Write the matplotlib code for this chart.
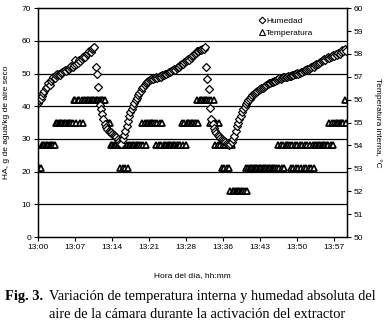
import numpy as np
import matplotlib.pyplot as plt
from matplotlib.lines import Line2D

# sample grid: one reading every 15 s, 13:00 -> 14:00 (minutes after 13:00)
minutes = np.arange(241) * 0.25

humedad = [
    41.0, 41.8, 42.3, 43.2, 44.0, 44.6, 45.5, 46.0, 47.0, 46.6, 47.8, 48.2, 49.0, 48.6, 49.5, 49.8, 50.0, 49.7, 50.3, 50.6,
    50.8, 51.2, 50.9, 51.5, 51.5, 51.9, 52.3, 52.0, 52.6, 54.0, 53.0, 53.3, 54.0, 53.8, 54.4, 55.0, 55.4, 55.2, 56.0, 56.4,
    57.0, 56.6, 57.4, 57.8, 58.2, 52.0, 50.0, 46.0, 40.5, 39.0, 37.5, 36.0, 34.5, 33.5, 33.0, 32.5, 32.2, 32.0, 31.6, 31.3,
    30.8, 30.5, 30.0, 29.5, 28.8, 28.5, 30.0, 31.2, 32.5, 34.0, 35.5, 37.0, 38.2, 39.2, 40.0, 41.0, 41.8, 42.6, 43.3, 44.0,
    44.8, 45.5, 46.0, 46.6, 47.0, 47.4, 47.8, 48.0, 48.2, 48.5, 48.4, 48.7, 48.9, 48.6, 49.0, 49.2, 48.9, 49.4, 49.6, 49.8,
    50.0, 50.3, 50.5, 50.4, 50.8, 51.0, 51.3, 51.1, 51.6, 52.0, 52.0, 52.5, 52.8, 53.0, 53.4, 53.8, 54.0, 54.4, 54.2, 54.8,
    55.3, 55.6, 56.0, 56.4, 56.8, 57.0, 57.3, 57.2, 57.6, 57.4, 58.0, 52.0, 48.3, 45.3, 39.5, 36.0, 34.5, 33.2, 32.5, 31.8,
    31.2, 30.8, 30.3, 30.0, 29.6, 29.3, 29.1, 28.8, 28.5, 28.2, 28.3, 29.0, 30.0, 31.0, 32.5, 34.0, 35.0, 36.0, 37.0, 38.2,
    39.3, 39.8, 40.6, 41.2, 41.8, 42.3, 42.8, 43.3, 43.8, 44.0, 44.5, 44.8, 45.0, 45.4, 45.6, 45.5, 46.0, 46.3, 46.4, 46.8,
    47.0, 47.1, 47.4, 47.3, 47.7, 47.8, 48.0, 48.2, 48.5, 48.3, 48.6, 48.8, 48.8, 49.0, 49.0, 49.2, 49.3, 49.2, 49.5, 49.6,
    49.8, 50.0, 50.1, 50.0, 50.3, 50.5, 50.6, 50.8, 51.0, 51.0, 51.3, 51.5, 51.7, 51.9, 52.2, 52.0, 52.6, 52.9, 53.0, 53.2,
    53.5, 53.8, 54.0, 54.4, 54.2, 54.6, 55.2, 54.8, 55.0, 55.4, 55.8, 55.5, 56.0, 55.8, 56.3, 56.0, 56.6, 57.2, 56.8, 57.5,
    57.0,
]

temperatura = [
    53, 53, 53, 54, 54, 54, 54, 54, 54, 54, 54, 54, 54, 54, 55, 55, 55, 55, 55, 55,
    55, 55, 55, 55, 55, 55, 55, 55, 56, 56, 55, 56, 56, 55, 56, 55, 56, 56, 56, 56,
    56, 56, 56, 56, 56, 56, 56, 56, 56, 56, 56, 56, 56, 55, 55, 55, 55, 54, 54, 54,
    54, 54, 54, 54, 53, 54, 53, 54, 53, 54, 53, 54, 54, 54, 54, 54, 54, 54, 54, 54,
    54, 55, 54, 55, 54, 55, 55, 55, 55, 55, 55, 55, 54, 55, 54, 55, 54, 55, 54, 54,
    54, 54, 54, 54, 54, 54, 54, 54, 54, 54, 54, 54, 55, 54, 55, 54, 55, 55, 55, 55,
    55, 55, 55, 55, 56, 55, 56, 56, 56, 56, 56, 56, 56, 56, 55, 56, 55, 56, 54, 55,
    54, 55, 54, 53, 54, 53, 54, 53, 54, 53, 52, 54, 52, 52, 52, 52, 52, 52, 52, 52,
    52, 52, 53, 52, 53, 53, 53, 53, 53, 53, 53, 53, 53, 53, 53, 53, 53, 53, 53, 53,
    53, 53, 53, 53, 53, 53, 53, 54, 53, 54, 53, 54, 53, 54, 54, 54, 54, 53, 54, 53,
    54, 53, 54, 53, 54, 53, 54, 53, 54, 53, 54, 53, 54, 53, 54, 53, 54, 54, 54, 54,
    54, 54, 54, 54, 54, 54, 54, 55, 54, 55, 54, 55, 55, 55, 55, 55, 55, 55, 55, 56,
    55,
]

tick_pos = [0, 7.2, 14.4, 21.6, 28.8, 36.0, 43.2, 50.4, 57.6]
tick_lab = ["13:00", "13:07", "13:14", "13:21", "13:28", "13:36", "13:43", "13:50", "13:57"]

sans = "Liberation Sans"
serif = "Liberation Serif"
fig = plt.figure(figsize=(3.85, 3.26), dpi=100)
ax = fig.add_axes([0.0987, 0.273, 0.8026, 0.702])
ax2 = ax.twinx()

for y in range(10, 70, 10):
    ax.axhline(y, color="black", linewidth=0.9, zorder=0)

ax2.plot(minutes, temperatura, linestyle="none", marker="^", markersize=4.6,
         markerfacecolor="white", markeredgecolor="black", markeredgewidth=1.25)
ax.plot(minutes, humedad, linestyle="none", marker="D", markersize=3.6,
        markerfacecolor="white", markeredgecolor="black", markeredgewidth=0.9)

# humidity on top of temperature
ax.set_zorder(ax2.get_zorder() + 1)
ax.patch.set_visible(False)

ax.set_xlim(0, 60.2)
ax.set_ylim(0, 70)
ax2.set_ylim(50, 60)
ax.set_xticks(tick_pos)
ax.set_xticklabels(tick_lab)
ax.set_yticks(range(0, 80, 10))
ax2.set_yticks(range(50, 61))

for a in (ax, ax2):
    for s in a.spines.values():
        s.set_color("black")
        s.set_linewidth(0.9)
    a.tick_params(labelsize=6, length=3, width=0.8, colors="black", pad=2)
    for lab in a.get_xticklabels() + a.get_yticklabels():
        lab.set_family(sans)

ax.set_xlabel("Hora del día, hh:mm", fontsize=6, family=sans, labelpad=15)
ax.set_ylabel("HA, g de agua/kg de aire seco", fontsize=6, family=sans, labelpad=8)
ax2.set_ylabel("Temperatura interna, °C", fontsize=6, family=sans, rotation=-90, labelpad=13)

handles = [
    Line2D([], [], linestyle="none", marker="D", markersize=3.4,
           markerfacecolor="white", markeredgecolor="black", markeredgewidth=0.8),
    Line2D([], [], linestyle="none", marker="^", markersize=4.2,
           markerfacecolor="white", markeredgecolor="black", markeredgewidth=0.8),
]
ax.legend(handles, ["Humedad", "Temperatura"], loc="upper right", bbox_to_anchor=(0.915, 0.995),
          frameon=False, prop={"family": sans, "size": 6}, handlelength=0.6,
          handletextpad=0.2, labelspacing=0.55)

fig.text(0.013, 0.08, "Fig. 3.", family=serif, weight="bold", fontsize=10.4)
fig.text(0.127, 0.08, "Variación de temperatura interna y humedad absoluta del",
         family=serif, fontsize=10.4)
fig.text(0.127, 0.025, "aire de la cámara durante la activación del extractor",
         family=serif, fontsize=10.4)

fig.savefig("out.png", dpi=100)
